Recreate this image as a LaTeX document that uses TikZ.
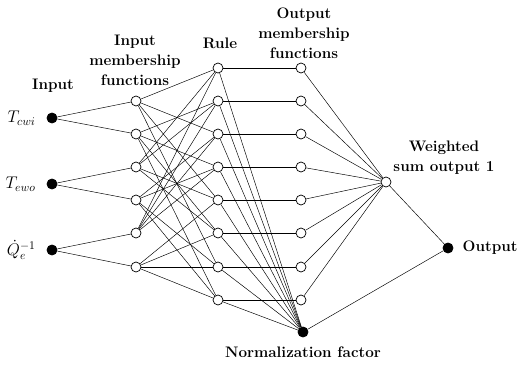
\documentclass[tikz,border=0pt]{standalone}
\usepackage{amsmath}
\pgfdeclarelayer{bg}
\pgfsetlayers{bg,main}
\tikzset{
    neuron/.style={circle, inner sep=0mm, draw, fill=white, minimum size=3mm, line width=0.6pt},
    dotnode/.style={circle, inner sep=0mm, draw, fill=black, minimum size=3mm},
    heading/.style={align=center, font=\fontsize{13}{17}\selectfont\bfseries}
}
\tikzset{every label/.style={shape=rectangle, draw=none, fill=none, font=\fontsize{14}{16}\selectfont}}

\begin{document}
\begin{tikzpicture}[x=0.3mm, y=-0.3mm, line width=0.7pt, label distance=2mm]
    \useasboundingbox (0,0) rectangle (527,366);

    % headings
    \node (hin) [heading] at (53, 86) {Input};
    \node (hmf) [heading] at (135, 60) {Input\\membership\\functions};
    \node (hrule) [heading] at (220, 43) {Rule};
    \node (hom) [heading] at (304, 33) {Output\\membership\\functions};
    \node (hws) [heading] at (444, 158) {Weighted\\sum output 1};

    % inputs
    \node (in1) [dotnode, label=left:$T_{cwi}$] at (52, 118) {};
    \node (in2) [dotnode, label=left:$T_{ewo}$] at (52, 184) {};
    \node (in3) [dotnode, label=left:$\dot{Q}_e^{-1}$] at (52, 250) {};

    % input membership functions
    \node (m1) [neuron] at (136, 101) {};
    \node (m2) [neuron] at (136, 134) {};
    \node (m3) [neuron] at (136, 167) {};
    \node (m4) [neuron] at (136, 200) {};
    \node (m5) [neuron] at (136, 233) {};
    \node (m6) [neuron] at (136, 267) {};

    % rules
    \node (r1) [neuron] at (218, 68) {};
    \node (r2) [neuron] at (218, 101) {};
    \node (r3) [neuron] at (218, 134) {};
    \node (r4) [neuron] at (218, 167) {};
    \node (r5) [neuron] at (218, 200) {};
    \node (r6) [neuron] at (218, 233) {};
    \node (r7) [neuron] at (218, 267) {};
    \node (r8) [neuron] at (218, 300) {};

    % output membership functions
    \node (o1) [neuron] at (301, 68) {};
    \node (o2) [neuron] at (301, 101) {};
    \node (o3) [neuron] at (301, 134) {};
    \node (o4) [neuron] at (301, 167) {};
    \node (o5) [neuron] at (301, 200) {};
    \node (o6) [neuron] at (301, 233) {};
    \node (o7) [neuron] at (301, 267) {};
    \node (o8) [neuron] at (301, 300) {};

    \node (nf) [dotnode, label={[label distance=1.5mm, font=\fontsize{13}{15}\selectfont\bfseries]below:Normalization factor}] at (303, 332) {};
    \node (ws) [neuron] at (386, 182) {};
    \node (out) [dotnode, label={[label distance=1.5mm, font=\fontsize{13}{15}\selectfont\bfseries]right:Output}] at (448, 248) {};

    \begin{pgfonlayer}{bg}
        \draw (in1) edge (m1);
        \draw (in1) edge (m2);
        \draw (in2) edge (m3);
        \draw (in2) edge (m4);
        \draw (in3) edge (m5);
        \draw (in3) edge (m6);

        \draw (m1) edge (r1);
        \draw (m1) edge (r3);
        \draw (m1) edge (r5);
        \draw (m1) edge (r7);
        \draw (m2) edge (r2);
        \draw (m2) edge (r4);
        \draw (m2) edge (r6);
        \draw (m2) edge (r8);

        \draw (m3) edge (r1);
        \draw (m3) edge (r2);
        \draw (m3) edge (r5);
        \draw (m3) edge (r6);
        \draw (m4) edge (r3);
        \draw (m4) edge (r4);
        \draw (m4) edge (r7);
        \draw (m4) edge (r8);

        \draw (m5) edge (r1);
        \draw (m5) edge (r2);
        \draw (m5) edge (r3);
        \draw (m5) edge (r4);
        \draw (m6) edge (r5);
        \draw (m6) edge (r6);
        \draw (m6) edge (r7);
        \draw (m6) edge (r8);

        \draw (r1) edge (o1);
        \draw (r2) edge (o2);
        \draw (r3) edge (o3);
        \draw (r4) edge (o4);
        \draw (r5) edge (o5);
        \draw (r6) edge (o6);
        \draw (r7) edge (o7);
        \draw (r8) edge (o8);

        \draw (r1) edge (nf);
        \draw (r2) edge (nf);
        \draw (r3) edge (nf);
        \draw (r4) edge (nf);
        \draw (r5) edge (nf);
        \draw (r6) edge (nf);
        \draw (r7) edge (nf);
        \draw (r8) edge (nf);

        \draw (o1) edge (ws);
        \draw (o2) edge (ws);
        \draw (o3) edge (ws);
        \draw (o4) edge (ws);
        \draw (o5) edge (ws);
        \draw (o6) edge (ws);
        \draw (o7) edge (ws);
        \draw (o8) edge (ws);

        \draw (ws) edge (out);
        \draw (nf) edge (out);
    \end{pgfonlayer}
\end{tikzpicture}
\end{document}
